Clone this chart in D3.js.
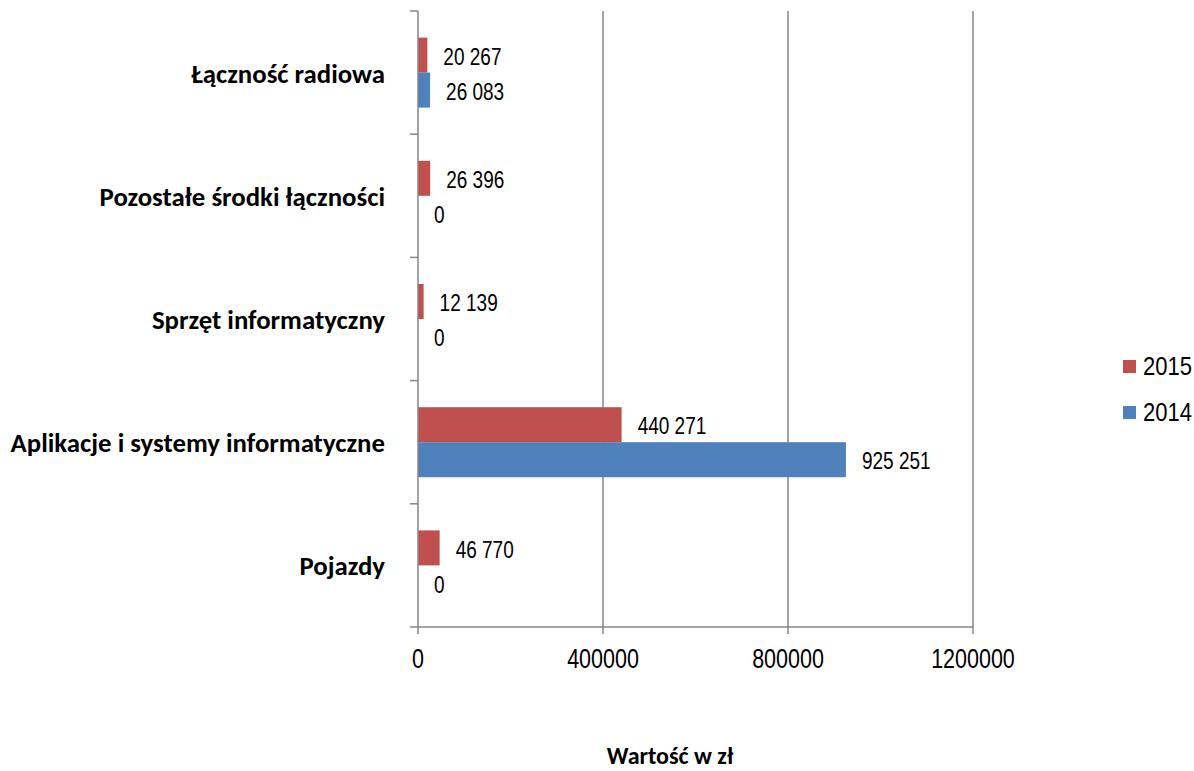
<!DOCTYPE html>
<html>
<head>
<meta charset="utf-8">
<script src="https://cdn.jsdelivr.net/npm/d3@7"></script>
<style>
  body { margin: 0; background: #fff; }
  .cat { font-family: Carlito, Lato, "Liberation Sans", sans-serif; font-weight: bold; fill: #000; }
  .num { font-family: "Liberation Sans", Arial, sans-serif; fill: #000; }
</style>
</head>
<body>
<div id="chart"></div>
<script>
// categories top to bottom, as in the picture
var categories = ["Łączność radiowa", "Pozostałe środki łączności", "Sprzęt informatyczny", "Aplikacje i systemy informatyczne", "Pojazdy"];
var series = ["2015", "2014"];
var values2015 = [20267, 26396, 12139, 440271, 46770];
var values2014 = [26083, 0, 0, 925251, 0];
var xTicks = [0, 400000, 800000, 1200000];
var axisTitle = "Wartość w zł";
var colors = { "2015": "#C0504D", "2014": "#4F81BD" };

var W = 1194, H = 771;
var margin = { top: 11, left: 418 },
    width = 555,
    height = 616;

var svg = d3.select("#chart")
    .append("svg")
    .attr("width", W)
    .attr("height", H);

var g = svg.append("g")
    .attr("transform", "translate(" + margin.left + "," + margin.top + ")");

var x = d3.scaleLinear()
    .domain([0, 1200000])
    .range([0, width]);

var y = d3.scaleBand()
    .domain(categories)
    .range([0, height]);

var ySub = d3.scaleBand()
    .domain(series)
    .range([0, y.bandwidth()])
    .paddingOuter(0.76);

var grey = "#868686";

// vertical gridlines
g.selectAll(".grid")
    .data(xTicks.filter(function(d) { return d > 0; }))
    .enter().append("line")
    .attr("x1", function(d) { return x(d); })
    .attr("x2", function(d) { return x(d); })
    .attr("y1", 0)
    .attr("y2", height)
    .attr("stroke", grey)
    .attr("stroke-width", 1.5);

// bars
var rows = [];
categories.forEach(function(c, i) {
    rows.push({ cat: c, s: "2015", v: values2015[i] });
    rows.push({ cat: c, s: "2014", v: values2014[i] });
});

g.selectAll(".bar")
    .data(rows)
    .enter().append("rect")
    .attr("x", 0)
    .attr("y", function(d) { return y(d.cat) + ySub(d.s); })
    .attr("width", function(d) { return x(d.v); })
    .attr("height", ySub.bandwidth())
    .attr("fill", function(d) { return colors[d.s]; });

// value labels
var fmt = function(v) { return d3.format(",")(v).replace(/,/g, " "); };
g.selectAll(".val")
    .data(rows)
    .enter().append("text")
    .attr("class", "num")
    .attr("transform", function(d) {
        return "translate(" + (x(d.v) + 16) + "," + (y(d.cat) + ySub(d.s) + ySub.bandwidth() / 2 + 1.5) + ") scale(1,1.22)";
    })
    .attr("dy", "0.35em")
    .style("font-size", "19px")
    .text(function(d) { return fmt(d.v); });

// y axis line + ticks at band edges
g.append("line")
    .attr("x1", 0).attr("x2", 0)
    .attr("y1", 0).attr("y2", height)
    .attr("stroke", grey).attr("stroke-width", 1.5);

var edges = categories.map(function(c) { return y(c); }).concat([height]);
g.selectAll(".ytick")
    .data(edges)
    .enter().append("line")
    .attr("x1", -8).attr("x2", 0)
    .attr("y1", function(d) { return d; })
    .attr("y2", function(d) { return d; })
    .attr("stroke", grey).attr("stroke-width", 1.5);

// category labels
g.selectAll(".catlabel")
    .data(categories)
    .enter().append("text")
    .attr("class", "cat")
    .attr("x", -33)
    .attr("y", function(d) { return y(d) + y.bandwidth() / 2 + 10; })
    .attr("text-anchor", "end")
    .style("font-size", "26.8px")
    .text(function(d) { return d; });

// x axis
g.append("line")
    .attr("x1", 0).attr("x2", width)
    .attr("y1", height).attr("y2", height)
    .attr("stroke", grey).attr("stroke-width", 1.5);

g.selectAll(".xtick")
    .data(xTicks)
    .enter().append("line")
    .attr("x1", function(d) { return x(d); })
    .attr("x2", function(d) { return x(d); })
    .attr("y1", height)
    .attr("y2", height + 7)
    .attr("stroke", grey).attr("stroke-width", 1.5);

g.selectAll(".xlabel")
    .data(xTicks)
    .enter().append("text")
    .attr("class", "num")
    .attr("text-anchor", "middle")
    .attr("transform", function(d) {
        return "translate(" + x(d) + "," + (height + 41) + ") scale(1,1.3)";
    })
    .style("font-size", "21.5px")
    .text(function(d) { return d; });

// axis title
svg.append("text")
    .attr("class", "cat")
    .attr("x", 670)
    .attr("y", 764)
    .attr("text-anchor", "middle")
    .style("font-size", "24px")
    .text(axisTitle);

// legend
var legend = svg.selectAll(".legend")
    .data(series)
    .enter().append("g")
    .attr("transform", function(d, i) { return "translate(1123," + (360 + i * 46) + ")"; });

legend.append("rect")
    .attr("width", 13)
    .attr("height", 13)
    .attr("fill", function(d) { return colors[d]; });

legend.append("text")
    .attr("class", "num")
    .attr("transform", "translate(20,15) scale(1,1.17)")
    .style("font-size", "22px")
    .text(function(d) { return d; });
</script>
</body>
</html>
